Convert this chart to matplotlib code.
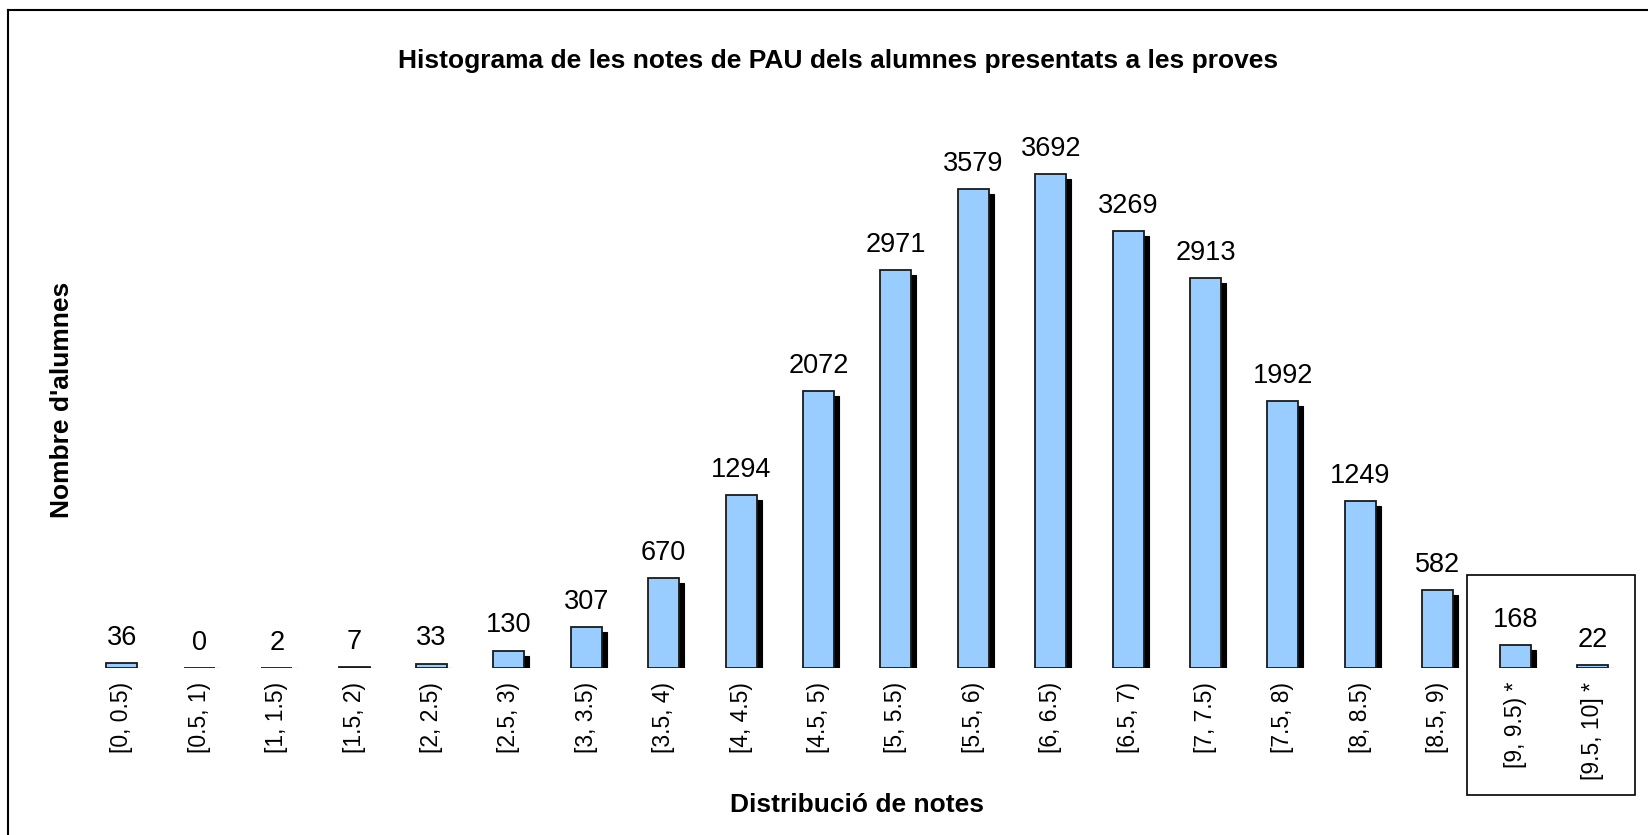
import matplotlib.pyplot as plt
import numpy as np
from matplotlib.patches import Rectangle
from matplotlib.lines import Line2D

plt.rcParams['font.family'] = ['Liberation Sans', 'DejaVu Sans']

# ---------------------------------------------------------------------------
# Data
# ---------------------------------------------------------------------------
intervals = ['[0, 0.5)', '[0.5, 1)', '[1, 1.5)', '[1.5, 2)', '[2, 2.5)',
             '[2.5, 3)', '[3, 3.5)', '[3.5, 4)', '[4, 4.5)', '[4.5, 5)',
             '[5, 5.5)', '[5.5, 6)', '[6, 6.5)', '[6.5, 7)', '[7, 7.5)',
             '[7.5, 8)', '[8, 8.5)', '[8.5, 9)', '[9, 9.5) *', '[9.5, 10] *']
students = [36, 0, 2, 7, 33, 130, 307, 670, 1294, 2072,
            2971, 3579, 3692, 3269, 2913, 1992, 1249, 582, 168, 22]

title = "Histograma de les notes de PAU dels alumnes presentats a les proves"
xlabel = "Distribució de notes"
ylabel = "Nombre d'alumnes"

bar_color = '#99CCFF'

# ---------------------------------------------------------------------------
# Figure
# ---------------------------------------------------------------------------
W, H = 1648, 835
fig = plt.figure(figsize=(W / 100, H / 100), dpi=100)

# axes placed so bar spacing / baseline match the reference
ax = fig.add_axes([0.0411, 0.2001, 0.9534, 0.6408])
ax.set_xlim(-0.7, 19.6)
ax.set_ylim(0, 4000)

x = np.arange(len(students))
vals = np.array(students, dtype=float)

# drop shadow: 5 px right / 5 px down, clipped at baseline
dx = 5 / 77.4
dy = 5 / 0.13377
ax.bar(x + dx, np.clip(vals - dy, 0, None), width=0.4, color='black',
       edgecolor='black', linewidth=0.8, zorder=1)
ax.bar(x, vals, width=0.4, color=bar_color, edgecolor='#1a1a1a',
       linewidth=1.3, zorder=2)

for xi, v in zip(x, students):
    ax.annotate(f'{v}', (xi, v), xytext=(0, 13), textcoords='offset points',
                ha='center', va='baseline', fontsize=19.5)

ax.set_xticks(x, intervals, rotation=90, fontsize=16.5)
ax.tick_params(axis='x', length=0, pad=10)
ax.set_yticks([])
for s in ax.spines.values():
    s.set_visible(False)

# texts
fig.text(838.5 / W, 1 - 68.3 / H, title, ha='center', va='baseline',
         fontsize=19, fontweight='bold')
fig.text(856.5 / W, 1 - 811.7 / H, xlabel, ha='center', va='baseline',
         fontsize=19, fontweight='bold')
fig.text(62 / W, 1 - 400 / H, ylabel, ha='center', va='center',
         rotation=90, fontsize=19, fontweight='bold')

# outer frame (only top and left edges visible)
fig.add_artist(Line2D([8 / W, 8 / W], [0, 1 - 10 / H], color='black', lw=1.5))
fig.add_artist(Line2D([8 / W, 1], [1 - 10 / H, 1 - 10 / H], color='black', lw=1.5))

# box around the last two intervals
fig.add_artist(Rectangle((1467 / W, 1 - 795 / H), (1635 - 1467) / W,
                         (795 - 575) / H, fill=False, edgecolor='black',
                         lw=1.2, transform=fig.transFigure))

fig.savefig('out.png', dpi=100)
